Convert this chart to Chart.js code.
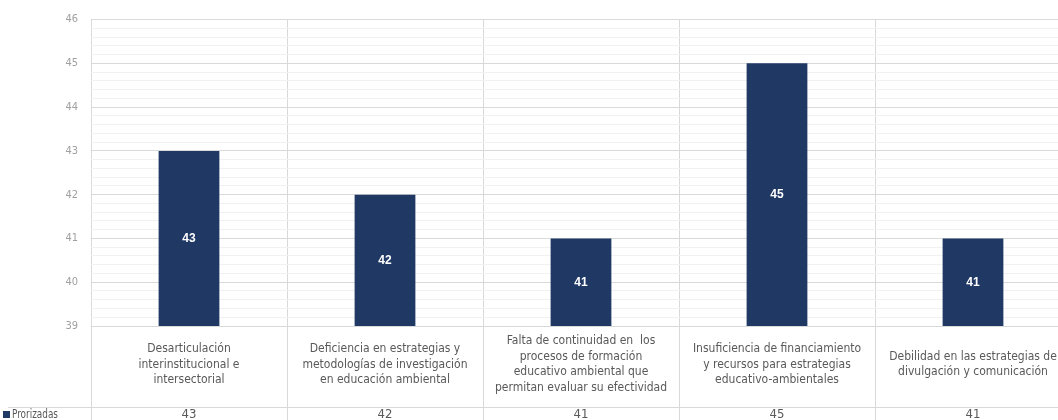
<!DOCTYPE html>
<html>
<head>
<meta charset="utf-8">
<script src="https://cdn.jsdelivr.net/npm/chart.js@4.4.0/dist/chart.umd.min.js"></script>
<style>
  html, body { margin: 0; padding: 0; overflow: hidden; background: #fff; }
  #wrap { width: 1076px; height: 420px; position: relative; }
</style>
</head>
<body>
<div id="wrap"><canvas id="barChart"></canvas></div>
<script>
// données du graphique
var categories = [
    ['Desarticulación', 'interinstitucional e', 'intersectorial'],
    ['Deficiencia en estrategias y', 'metodologías de investigación', 'en educación ambiental'],
    ['Falta de continuidad en  los', 'procesos de formación', 'educativo ambiental que', 'permitan evaluar su efectividad'],
    ['Insuficiencia de financiamiento', 'y recursos para estrategias', 'educativo-ambientales'],
    ['Debilidad en las estrategias de', 'divulgación y comunicación']
];
var seriesName = 'Prorizadas';
var values = [43, 42, 41, 45, 41];
var yMin = 39;
var yMax = 46;

var barColor = '#203864';
var gridMajor = '#d9d9d9';
var gridMinor = '#f1f1f1';
var narrow = "'Liberation Sans Narrow', 'Arial Narrow', 'DejaVu Sans Condensed', sans-serif";

function isInt(v) {
    return Math.abs(v - Math.round(v)) < 1e-6;
}

// tableau de données sous l'axe + étiquettes dans les barres
var tablePlugin = {
    id: 'tablePlugin',
    afterDraw: function (chart) {
        var c = chart.ctx;
        var x = chart.scales.x;
        var y = chart.scales.y;
        var area = chart.chartArea;
        var H = chart.height;
        var rowY = 407;

        c.save();
        c.strokeStyle = gridMajor;
        c.lineWidth = 1;
        for (var i = 0; i <= values.length; i++) {
            var px = Math.round(x.getPixelForValue(i - 0.5)) + 0.5;
            c.beginPath();
            c.moveTo(px, area.bottom);
            c.lineTo(px, H);
            c.stroke();
        }
        c.beginPath();
        c.moveTo(8, rowY + 0.5);
        c.lineTo(chart.width, rowY + 0.5);
        c.stroke();

        // légende
        c.fillStyle = barColor;
        c.fillRect(3, 411, 7, 7);
        c.fillStyle = '#595959';
        c.font = '13px ' + narrow;
        c.textAlign = 'left';
        c.textBaseline = 'middle';
        c.fillText(seriesName, 12, 415, 46);

        // valeurs
        c.textAlign = 'center';
        values.forEach(function (v, i) {
            c.fillText(String(v), x.getPixelForValue(i), 415);
        });

        // étiquettes des barres
        c.fillStyle = '#ffffff';
        c.font = 'bold 12px Arial, sans-serif';
        values.forEach(function (v, i) {
            var top = y.getPixelForValue(v);
            var mid = (top + area.bottom) / 2;
            c.fillText(String(v), x.getPixelForValue(i), mid);
        });
        c.restore();
    }
};

var ctx = document.getElementById('barChart').getContext('2d');
var myChart = new Chart(ctx, {
    type: 'bar',
    data: {
        labels: categories,
        datasets: [{
            label: seriesName,
            data: values,
            backgroundColor: barColor,
            borderWidth: 0,
            barPercentage: 0.31,
            categoryPercentage: 1
        }]
    },
    options: {
        responsive: true,
        maintainAspectRatio: false,
        animation: false,
        devicePixelRatio: 1,
        layout: { padding: { top: 17, right: 5, left: 0, bottom: 0 } },
        plugins: {
            legend: { display: false },
            tooltip: { enabled: false },
            title: { display: false }
        },
        scales: {
            x: {
                offset: true,
                border: { display: false },
                grid: { color: gridMajor, drawTicks: false, offset: true },
                ticks: {
                    autoSkip: false,
                    maxRotation: 0,
                    minRotation: 0,
                    crossAlign: 'center',
                    padding: 15,
                    color: '#595959',
                    font: { family: narrow, size: 12, lineHeight: 1.3 }
                },
                afterFit: function (scale) { scale.height = 94; }
            },
            y: {
                min: yMin,
                max: yMax,
                border: { display: false },
                grid: {
                    drawTicks: false,
                    color: function (c) { return isInt(c.tick.value) ? gridMajor : gridMinor; }
                },
                ticks: {
                    stepSize: 0.2,
                    autoSkip: false,
                    padding: 13,
                    color: '#a0a0a0',
                    font: { family: narrow, size: 11 },
                    callback: function (v) { return isInt(v) ? String(Math.round(v)) : ''; }
                },
                afterFit: function (scale) { scale.width = 91; }
            }
        }
    },
    plugins: [tablePlugin]
});
</script>
</body>
</html>
